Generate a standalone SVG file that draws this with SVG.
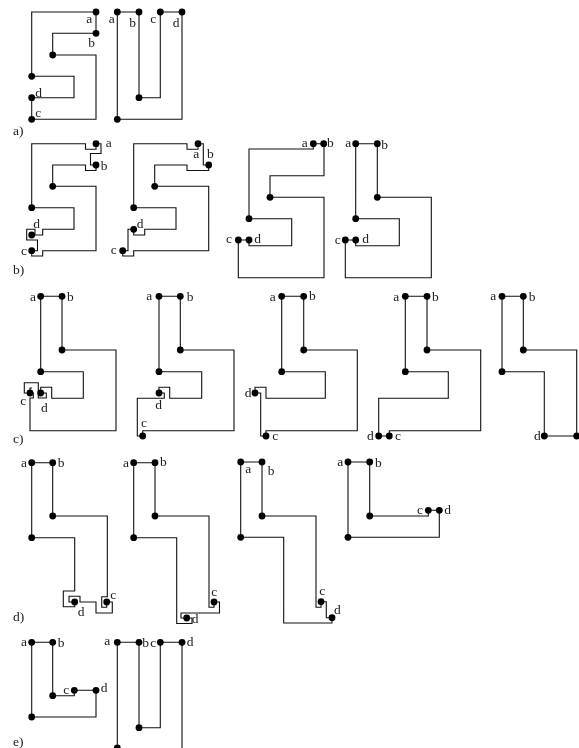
<svg xmlns="http://www.w3.org/2000/svg" width="579" height="748" viewBox="0 0 579 748">
<style>
rect.bg{fill:#fff}
path{fill:none;stroke:#111;stroke-width:1.1}
circle{fill:#000;stroke:none}
text{font-family:"Liberation Serif","Times New Roman",serif;font-size:13.5px;fill:#222;text-anchor:middle;filter:url(#gray)}
text.cap{text-anchor:start}
</style>
<defs><circle id="dot" r="3.4"/><filter id="gray" x="-50%" y="-50%" width="200%" height="200%" color-interpolation-filters="sRGB"><feOffset dx="0" dy="0"/></filter></defs>
<rect class="bg" width="579" height="748"/>
<g id="connectors">
<path id="a1-c" d="M96 12H31.7V76.3H74V97.7H31.7V119.3H96V55H52.7V33.3H96V12"/>
<path id="a2-c" d="M117.3 12H139V97.7H160.3V12H182V119.3H117.3V12"/>
<path id="b1-c" d="M31.7 207.7V143.7H85.5V149.3H96V143.7H101V153.5H90.5V165H96M96 165V170.5H85.5V165H52.7V186.3H96V250.7H42.7V256H31.7V250.7H37.5V240H26.7V229.3H35V235H31.7M31.7 235H42.7V229.3H74V207.7H31.7"/>
<path id="b2-c" d="M133.7 207.7V143.7H187V149.3H198V143.7H203.3V165H208.7V170.5H187V165H154.7V186.3H208.7V250.7H133.7V256H122.7V250.7H128V229.3H133.7V235H144.7V229.3H176V207.7H133.7"/>
<path id="b3-c" d="M323.7 143.7H313.3V149H249V218.7H291.7V245.7H249V240H238.3V277.7H324V197.3H270V175.7H324V143.7"/>
<path id="b4-c" d="M355.7 218.7V143.7H377.3V197.3H431.3V277.7H345.3V240H355.7V245.7H399.3V218.7H355.7"/>
<path id="c1-c" d="M40.7 371.7V296.3H62V350H116V430.7H30V398H33.3V393H24.3V382.7H38.3V398H46.3V393H40.7V387.3H51.7V398.3H83.3V371.7H40.7M30 393V388H32"/>
<path id="c2-c" d="M159 371.7V296.3H180.3V350H234V430.7H142.7V436H137.3V398.3H164.3V393H159V387.3H169.7V398.3H201.7V371.7H159"/>
<path id="c3-c" d="M281.7 371.7V296.3H303.7V350H357.3V430.7H266V436H260.7V393H255V387.3H266V398.3H325.3V371.7H281.7"/>
<path id="c4-c" d="M405.3 371.7V296.3H427V350H480.7V430.7H389.3V436H378.7V398.3H448.3V371.7H405.3"/>
<path id="c5-c" d="M502 371.7V296.3H523.3V350H576.7V436H544.3V371.7H502"/>
<path id="d1-c" d="M31.7 537.7V462.7H52.7V516H107.3V596.7H101.7V607.3H106.7V602H112.3V613H96V602H80V596.3H69V602H74.7V606.8H63.3V591H74.7V537.7H31.7"/>
<path id="d2-c" d="M133.7 537.7V462.7H155V516H209V607.3H214V602H219.5V613H181V618H186.7H192V623.5H176.7V537.7H133.7"/>
<path id="d3-c" d="M240.7 537.3V462H262V516H316V607.3H321V601.7H326.3V617.7H332V623H283.7V537.3H240.7"/>
<path id="d4-c" d="M348 537.3V462H369.7V516H428.3V510.3H439.3V537.3H348"/>
<path id="e1-c" d="M31.7 717V642.3H52.7V695.7H74.3V690.3H96V717H31.7"/>
<path id="e2-c" d="M117.3 748V642.3H139V727.7H160.3V642.3H182V748"/>
</g>
<g id="panel-a">
<text class="cap" x="13" y="135">a)</text>
<g id="a1-a"><use href="#dot" x="96" y="12"/><text x="89.3" y="23">a</text></g>
<g id="a1-b"><use href="#dot" x="96" y="33.3"/><text x="91.7" y="46.7">b</text></g>
<g id="a1-p"><use href="#dot" x="52.7" y="55"/></g>
<g id="a1-q"><use href="#dot" x="31.7" y="76.3"/></g>
<g id="a1-d"><use href="#dot" x="31.7" y="97.7"/><text x="38.7" y="96.7">d</text></g>
<g id="a1-c-n"><use href="#dot" x="31.7" y="119.3"/><text x="38.3" y="117">c</text></g>
<g id="a2-a"><use href="#dot" x="117.3" y="12"/><text x="111.7" y="23">a</text></g>
<g id="a2-b"><use href="#dot" x="139" y="12"/><text x="132.7" y="27">b</text></g>
<g id="a2-c-n"><use href="#dot" x="160.3" y="12"/><text x="153.3" y="23">c</text></g>
<g id="a2-d"><use href="#dot" x="182" y="12"/><text x="176" y="27">d</text></g>
<g id="a2-p"><use href="#dot" x="139" y="97.7"/></g>
<g id="a2-q"><use href="#dot" x="117.3" y="119.3"/></g>
</g>
<g id="panel-b">
<text class="cap" x="13" y="274">b)</text>
<g id="b1-a"><use href="#dot" x="96" y="143.7"/><text x="108.7" y="146.7">a</text></g>
<g id="b1-b"><use href="#dot" x="96" y="165"/><text x="104" y="170">b</text></g>
<g id="b1-p"><use href="#dot" x="52.7" y="186.3"/></g>
<g id="b1-q"><use href="#dot" x="31.7" y="207.7"/></g>
<g id="b1-d"><use href="#dot" x="31.7" y="235"/><text x="36.7" y="227.7">d</text></g>
<g id="b1-c-n"><use href="#dot" x="31.7" y="250.7"/><text x="24" y="255">c</text></g>
<g id="b2-a"><use href="#dot" x="198" y="143.7"/><text x="196.3" y="158.3">a</text></g>
<g id="b2-b"><use href="#dot" x="208.7" y="165"/><text x="210.3" y="158.3">b</text></g>
<g id="b2-p"><use href="#dot" x="154.7" y="186.3"/></g>
<g id="b2-q"><use href="#dot" x="133.7" y="207.7"/></g>
<g id="b2-d"><use href="#dot" x="133.7" y="229.3"/><text x="140" y="227.7">d</text></g>
<g id="b2-c-n"><use href="#dot" x="122.7" y="250.7"/><text x="113.7" y="254">c</text></g>
<g id="b3-a"><use href="#dot" x="313.3" y="143.7"/><text x="304.7" y="146.7">a</text></g>
<g id="b3-b"><use href="#dot" x="323.7" y="143.7"/><text x="330.3" y="146.7">b</text></g>
<g id="b3-p"><use href="#dot" x="270" y="197.3"/></g>
<g id="b3-q"><use href="#dot" x="249" y="218.7"/></g>
<g id="b3-d"><use href="#dot" x="249" y="240"/><text x="257.7" y="243">d</text></g>
<g id="b3-c-n"><use href="#dot" x="238.3" y="240"/><text x="229" y="243.3">c</text></g>
<g id="b4-a"><use href="#dot" x="355.7" y="143.7"/><text x="348.3" y="146.7">a</text></g>
<g id="b4-b"><use href="#dot" x="377.3" y="143.7"/><text x="384.7" y="148.7">b</text></g>
<g id="b4-p"><use href="#dot" x="377.3" y="197.3"/></g>
<g id="b4-q"><use href="#dot" x="355.7" y="218.7"/></g>
<g id="b4-d"><use href="#dot" x="355.7" y="240"/><text x="365.7" y="243">d</text></g>
<g id="b4-c-n"><use href="#dot" x="345.3" y="240"/><text x="337.7" y="244">c</text></g>
</g>
<g id="panel-c">
<text class="cap" x="13" y="443">c)</text>
<g id="c1-a"><use href="#dot" x="40.7" y="296.3"/><text x="33" y="300.7">a</text></g>
<g id="c1-b"><use href="#dot" x="62" y="296.3"/><text x="70.3" y="300.7">b</text></g>
<g id="c1-p"><use href="#dot" x="62" y="350"/></g>
<g id="c1-q"><use href="#dot" x="40.7" y="371.7"/></g>
<g id="c1-d"><use href="#dot" x="40.7" y="393"/><text x="44.3" y="411.7">d</text></g>
<g id="c1-c-n"><use href="#dot" x="30" y="393"/><text x="23.3" y="405">c</text></g>
<g id="c2-a"><use href="#dot" x="159" y="296.3"/><text x="149.3" y="300">a</text></g>
<g id="c2-b"><use href="#dot" x="180.3" y="296.3"/><text x="190" y="300.7">b</text></g>
<g id="c2-p"><use href="#dot" x="180.3" y="350"/></g>
<g id="c2-q"><use href="#dot" x="159" y="371.7"/></g>
<g id="c2-d"><use href="#dot" x="159" y="393"/><text x="158.7" y="408.7">d</text></g>
<g id="c2-c-n"><use href="#dot" x="142.7" y="436"/><text x="144" y="426.7">c</text></g>
<g id="c3-a"><use href="#dot" x="281.7" y="296.3"/><text x="272.7" y="300.7">a</text></g>
<g id="c3-b"><use href="#dot" x="303.7" y="296.3"/><text x="312.3" y="300">b</text></g>
<g id="c3-p"><use href="#dot" x="303.7" y="350"/></g>
<g id="c3-q"><use href="#dot" x="281.7" y="371.7"/></g>
<g id="c3-d"><use href="#dot" x="255" y="393"/><text x="248" y="397">d</text></g>
<g id="c3-c-n"><use href="#dot" x="266" y="436"/><text x="275.3" y="440.3">c</text></g>
<g id="c4-a"><use href="#dot" x="405.3" y="296.3"/><text x="396.3" y="300.7">a</text></g>
<g id="c4-b"><use href="#dot" x="427" y="296.3"/><text x="435.3" y="300.7">b</text></g>
<g id="c4-p"><use href="#dot" x="427" y="350"/></g>
<g id="c4-q"><use href="#dot" x="405.3" y="371.7"/></g>
<g id="c4-d"><use href="#dot" x="378.7" y="436"/><text x="370.3" y="440.3">d</text></g>
<g id="c4-c-n"><use href="#dot" x="389.3" y="436"/><text x="398" y="440.3">c</text></g>
<g id="c5-a"><use href="#dot" x="502" y="296.3"/><text x="493.3" y="300">a</text></g>
<g id="c5-b"><use href="#dot" x="523.3" y="296.3"/><text x="532" y="300.7">b</text></g>
<g id="c5-p"><use href="#dot" x="523.3" y="350"/></g>
<g id="c5-q"><use href="#dot" x="502" y="371.7"/></g>
<g id="c5-d"><use href="#dot" x="544.3" y="436"/><text x="537.3" y="440.3">d</text></g>
<g id="c5-c-n"><use href="#dot" x="576.7" y="436"/></g>
</g>
<g id="panel-d">
<text class="cap" x="13" y="621">d)</text>
<g id="d1-a"><use href="#dot" x="31.7" y="462.7"/><text x="24" y="466.7">a</text></g>
<g id="d1-b"><use href="#dot" x="52.7" y="462.7"/><text x="61" y="466.7">b</text></g>
<g id="d1-p"><use href="#dot" x="52.7" y="516"/></g>
<g id="d1-q"><use href="#dot" x="31.7" y="537.7"/></g>
<g id="d1-d"><use href="#dot" x="74.7" y="602"/><text x="81" y="615.7">d</text></g>
<g id="d1-c-n"><use href="#dot" x="106.7" y="602"/><text x="113.3" y="598.7">c</text></g>
<g id="d2-a"><use href="#dot" x="133.7" y="462.7"/><text x="126" y="466.7">a</text></g>
<g id="d2-b"><use href="#dot" x="155" y="462.7"/><text x="163.3" y="465.7">b</text></g>
<g id="d2-p"><use href="#dot" x="155" y="516"/></g>
<g id="d2-q"><use href="#dot" x="133.7" y="537.7"/></g>
<g id="d2-d"><use href="#dot" x="186.7" y="618"/><text x="195" y="623">d</text></g>
<g id="d2-c-n"><use href="#dot" x="214" y="602"/><text x="214.3" y="596">c</text></g>
<g id="d3-a"><use href="#dot" x="240.7" y="462"/><text x="248.3" y="473">a</text></g>
<g id="d3-b"><use href="#dot" x="262" y="462"/><text x="271" y="474.7">b</text></g>
<g id="d3-p"><use href="#dot" x="262" y="516"/></g>
<g id="d3-q"><use href="#dot" x="240.7" y="537.3"/></g>
<g id="d3-c-n"><use href="#dot" x="321" y="601.7"/><text x="322.3" y="594.7">c</text></g>
<g id="d3-d"><use href="#dot" x="332" y="617.7"/><text x="337.3" y="613.7">d</text></g>
<g id="d4-a"><use href="#dot" x="348" y="462"/><text x="340.3" y="465.7">a</text></g>
<g id="d4-b"><use href="#dot" x="369.7" y="462"/><text x="378.3" y="466.7">b</text></g>
<g id="d4-p"><use href="#dot" x="369.7" y="516"/></g>
<g id="d4-q"><use href="#dot" x="348" y="537.3"/></g>
<g id="d4-c-n"><use href="#dot" x="428.3" y="510.3"/><text x="420" y="514.3">c</text></g>
<g id="d4-d"><use href="#dot" x="439.3" y="510.3"/><text x="447.7" y="514.3">d</text></g>
</g>
<g id="panel-e">
<text class="cap" x="13" y="746">e)</text>
<g id="e1-a"><use href="#dot" x="31.7" y="642.3"/><text x="24" y="645.7">a</text></g>
<g id="e1-b"><use href="#dot" x="52.7" y="642.3"/><text x="61" y="646.7">b</text></g>
<g id="e1-p"><use href="#dot" x="52.7" y="695.7"/></g>
<g id="e1-c-n"><use href="#dot" x="74.3" y="690.3"/><text x="66.3" y="694.3">c</text></g>
<g id="e1-d"><use href="#dot" x="96" y="690.3"/><text x="104" y="691.7">d</text></g>
<g id="e1-q"><use href="#dot" x="31.7" y="717"/></g>
<g id="e2-a"><use href="#dot" x="117.3" y="642.3"/><text x="107.3" y="645">a</text></g>
<g id="e2-b"><use href="#dot" x="139" y="642.3"/><text x="145.7" y="646.7">b</text></g>
<g id="e2-c-n"><use href="#dot" x="160.3" y="642.3"/><text x="153.3" y="646.7">c</text></g>
<g id="e2-d"><use href="#dot" x="182" y="642.3"/><text x="190" y="645.7">d</text></g>
<g id="e2-p"><use href="#dot" x="139" y="727.7"/></g>
<g id="e2-q"><use href="#dot" x="117.3" y="748"/></g>
</g>
</svg>
